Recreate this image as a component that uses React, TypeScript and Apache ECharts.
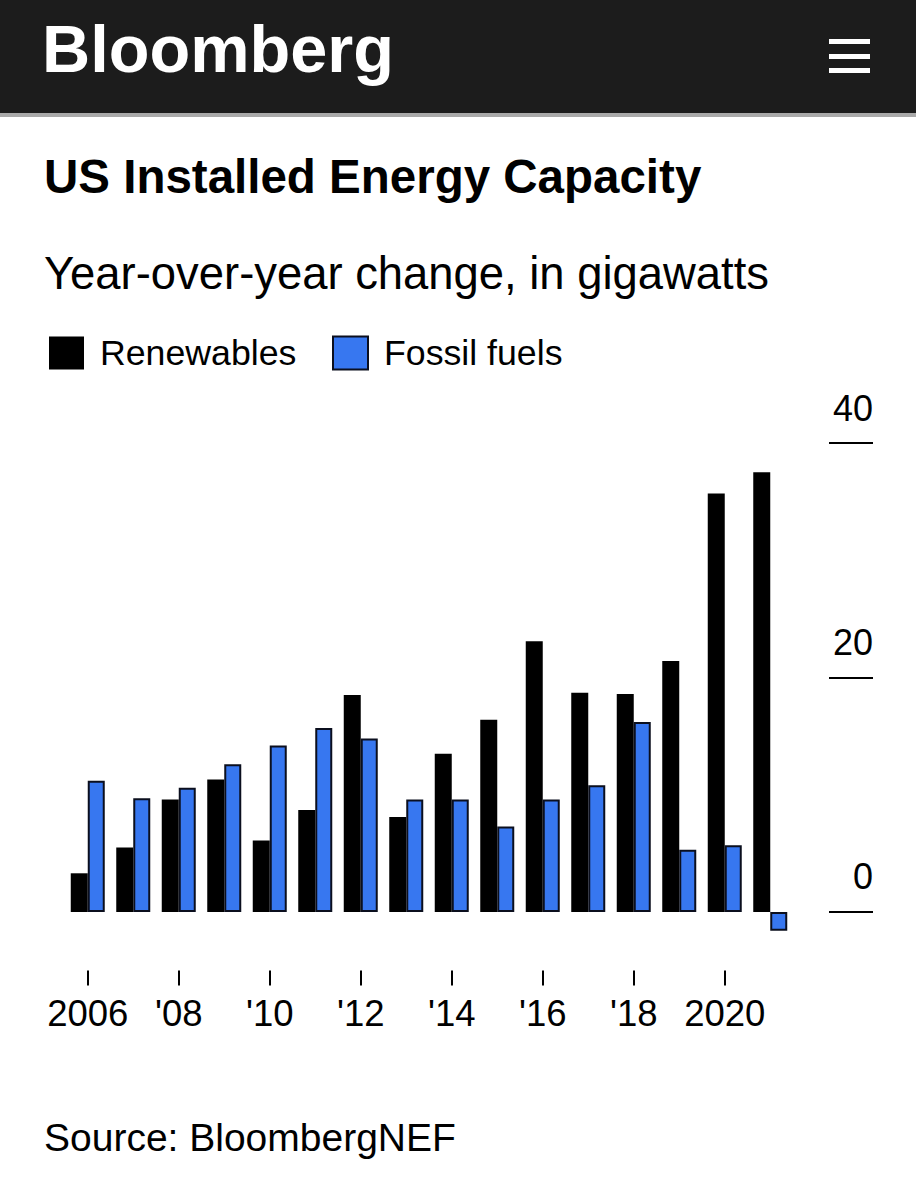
import React, { useEffect, useRef } from "react";
import * as echarts from "echarts";

const FONT = "'Liberation Sans', Arial, Helvetica, sans-serif";

const categories = ["2006", "'07", "'08", "'09", "'10", "'11", "'12", "'13", "'14", "'15", "'16", "'17", "'18", "'19", "2020", "'21"];
const renewables = [3.3, 5.5, 9.6, 11.3, 6.1, 8.7, 18.5, 8.1, 13.5, 16.4, 23.1, 18.7, 18.6, 21.4, 35.7, 37.5];
const fossilFuels = [11.2, 9.7, 10.6, 12.6, 14.2, 15.7, 14.8, 9.6, 9.6, 7.3, 9.6, 10.8, 16.2, 5.3, 5.7, -1.6];
const yTickValues = [0, 20, 40];

const TITLE = "US Installed Energy Capacity";
const SUBTITLE = "Year-over-year change, in gigawatts";
const SOURCE = "Source: BloombergNEF";

export default function App() {
  const ref = useRef<HTMLDivElement>(null);

  useEffect(() => {
    if (!ref.current) return;
    const chart = echarts.init(ref.current, undefined, { renderer: "svg" });
    const legendBase = {
      icon: "rect",
      itemWidth: 35,
      itemHeight: 33,
      selectedMode: false,
      top: 335,
      padding: 0,
      textStyle: {
        fontSize: 35.7,
        lineHeight: 35,
        fontFamily: FONT,
        color: "#000",
        padding: [0, 0, 0, 11],
      },
    };
    chart.setOption({
      animation: false,
      backgroundColor: "#fff",
      textStyle: { fontFamily: FONT },
      legend: [
        { ...legendBase, left: 49, data: ["Renewables"] },
        { ...legendBase, left: 332, data: ["Fossil fuels"] },
      ],
      grid: { left: 65, right: 123, top: 443, bottom: 229.4, containLabel: false },
      xAxis: {
        type: "category",
        data: categories,
        axisLine: { show: false, onZero: false },
        axisTick: {
          show: true,
          alignWithLabel: true,
          interval: 1,
          length: 15,
          lineStyle: { color: "#000", width: 2 },
        },
        axisLabel: {
          interval: 1,
          fontSize: 36.5,
          fontFamily: FONT,
          color: "#000",
          margin: 24,
        },
        splitLine: { show: false },
      },
      yAxis: {
        type: "value",
        position: "right",
        min: -5,
        max: 40,
        offset: 36,
        axisLine: { show: false },
        splitLine: { show: false },
        axisTick: {
          show: true,
          customValues: yTickValues,
          length: 44,
          lineStyle: { color: "#000", width: 2 },
        },
        axisLabel: {
          customValues: yTickValues,
          align: "right",
          verticalAlign: "bottom",
          margin: 44,
          fontSize: 36,
          fontFamily: FONT,
          color: "#000",
          padding: [0, 0, 17, 0],
        },
      },
      series: [
        {
          name: "Renewables",
          type: "bar",
          data: renewables,
          barWidth: 17,
          barGap: "0%",
          itemStyle: { color: "#000" },
        },
        {
          name: "Fossil fuels",
          type: "bar",
          data: fossilFuels,
          barWidth: 17,
          barGap: "0%",
          itemStyle: { color: "#3777f0", borderColor: "#0b0f1e", borderWidth: 2 },
        },
      ],
      graphic: [
        { type: "rect", shape: { x: 0, y: 0, width: 916, height: 113 }, style: { fill: "#1c1c1c" }, silent: true },
        { type: "rect", shape: { x: 0, y: 113, width: 916, height: 4 }, style: { fill: "#a9a9a9" }, silent: true },
        { type: "rect", shape: { x: 829, y: 39, width: 41, height: 5 }, style: { fill: "#fff" }, silent: true },
        { type: "rect", shape: { x: 829, y: 54, width: 41, height: 5 }, style: { fill: "#fff" }, silent: true },
        { type: "rect", shape: { x: 829, y: 68, width: 41, height: 5 }, style: { fill: "#fff" }, silent: true },
        {
          type: "text",
          x: 42,
          y: 49,
          style: { text: "Bloomberg", fill: "#fff", fontSize: 66.7, fontWeight: "bold", fontFamily: FONT, verticalAlign: "middle" },
          silent: true,
        },
        {
          type: "text",
          x: 44,
          y: 176,
          style: { text: TITLE, fill: "#000", fontSize: 47.5, fontWeight: "bold", fontFamily: FONT, verticalAlign: "middle" },
          silent: true,
        },
        {
          type: "text",
          x: 44,
          y: 273,
          style: { text: SUBTITLE, fill: "#000", fontSize: 45.4, fontFamily: FONT, verticalAlign: "middle" },
          silent: true,
        },
        {
          type: "text",
          x: 44,
          y: 1137,
          style: { text: SOURCE, fill: "#000", fontSize: 39, fontFamily: FONT, verticalAlign: "middle" },
          silent: true,
        },
      ],
    });
    return () => chart.dispose();
  }, []);

  return (
    <div
      ref={ref}
      style={{ position: "absolute", left: 0, top: 0, width: 916, height: 1200, background: "#fff" }}
    />
  );
}
